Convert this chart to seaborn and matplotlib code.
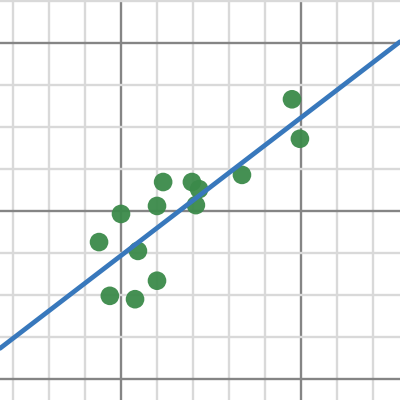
import numpy as np
import pandas as pd
import seaborn as sns
import matplotlib.pyplot as plt

# Pontos
x_vals = [1.17, 1.97, 2.17, 2.08, 1.0, 0.0, -0.61, 0.47, 1.0, -0.31, 0.39, 3.36, 4.75, 4.97]
y_vals = [0.345, 0.345, 0.26, 0.07, 0.06, -0.035, -0.37, -0.475, -0.83, -1.01, -1.05, 0.43, 1.33, 0.86]

x_major = [0, 5]
y_major = [-2, 0, 2]
x_minor = list(range(-3, 8))
y_minor = [-2.0, -1.5, -1.0, -0.5, 0.5, 1.0, 1.5, 2.0, 2.5]

df = pd.DataFrame({'x': x_vals, 'y': y_vals})

sns.set_style('white')

fig = plt.figure(figsize=(4, 4), dpi=100)
ax = fig.add_axes([0, 0, 1, 1])
ax.set_xlim(-121 / 36, 279 / 36)
ax.set_ylim(-189 / 84, 211 / 84)

# Grade estilo Desmos
ax.set_xticks(x_major)
ax.set_yticks(y_major)
ax.set_xticks(x_minor, minor=True)
ax.set_yticks(y_minor, minor=True)
ax.grid(which='minor', color='#d9d9d9', linewidth=1.7)
ax.grid(which='major', color='#858585', linewidth=1.7)
ax.set_axisbelow(True)
ax.tick_params(which='both', length=0, labelbottom=False, labelleft=False)
for s in ax.spines.values():
    s.set_visible(False)

# Pontos e reta de regressão
sns.regplot(x='x', y='y', data=df, ax=ax, ci=None, truncate=False,
            scatter_kws={'s': 180, 'color': '#3b8a4a', 'alpha': 0.95, 'edgecolor': 'none'},
            line_kws={'color': '#3878bc', 'linewidth': 3.4})
ax.set_xlabel('')
ax.set_ylabel('')

plt.savefig('out.png', dpi=100)
